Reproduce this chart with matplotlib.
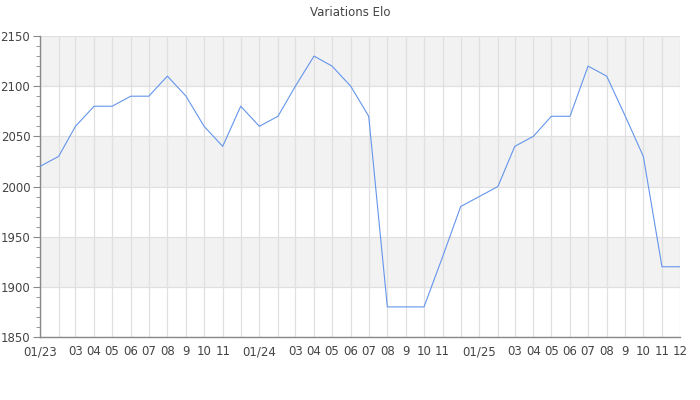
import pandas as pd
import matplotlib
matplotlib.use("Agg")
import matplotlib.pyplot as plt
from matplotlib.ticker import MultipleLocator

# monthly Elo values, 01/2023 -> 12/2025
months = pd.date_range("2023-01-01", periods=36, freq="MS")
elo = [
    2020, 2030, 2060, 2080, 2080, 2090, 2090, 2110, 2090, 2060, 2040, 2080,
    2060, 2070, 2100, 2130, 2120, 2100, 2070, 1880, 1880, 1880, 1930, 1980,
    1990, 2000, 2040, 2050, 2070, 2070, 2120, 2110, 2070, 2030, 1920, 1920,
]
month_labels = (
    ["01/23", "", "03", "04", "05", "06", "07", "08", "9", "10", "11", ""]
    + ["01/24", "", "03", "04", "05", "06", "07", "08", "9", "10", "11", ""]
    + ["01/25", "", "03", "04", "05", "06", "07", "08", "9", "10", "11", "12"]
)
y_min, y_max, y_step = 1850, 2150, 50

text_col = "#444444"
grid_col = "#e0e0e0"
band_col = "#f2f2f2"
line_col = "#6495ed"

fig = plt.figure(figsize=(7, 4), dpi=100)
ax = fig.add_axes([40 / 700, 1 - 337 / 400, 640 / 700, 301 / 400])

# alternating horizontal bands
for i, lo in enumerate(range(y_max - y_step, y_min - 1, -y_step)):
    if i % 2 == 0:
        ax.axhspan(lo, lo + y_step, color=band_col, zorder=0, lw=0)

ax.plot(months, elo, color=line_col, linewidth=0.8, zorder=3)

ax.set_xlim(months[0], months[-1])
ax.set_ylim(y_min, y_max)
ax.set_xticks(months)
ax.set_xticklabels(month_labels)
ax.yaxis.set_major_locator(MultipleLocator(y_step))
ax.yaxis.set_minor_locator(MultipleLocator(10))

ax.grid(True, which="major", color=grid_col, linewidth=0.9, zorder=1)
ax.set_axisbelow(True)

for side in ("top", "right"):
    ax.spines[side].set_visible(False)
for side in ("left", "bottom"):
    ax.spines[side].set_color("#888888")
    ax.spines[side].set_linewidth(1)

ax.tick_params(axis="x", length=0, pad=6, labelsize=8.5, labelcolor=text_col)
ax.tick_params(axis="y", which="major", length=5, color="#888888",
               labelsize=8.5, labelcolor=text_col, pad=2)
ax.tick_params(axis="y", which="minor", length=3, color="#888888")

fig.text(0.5, 1 - 12 / 400, "Variations Elo", ha="center", va="center",
         fontsize=8.5, color=text_col)

fig.savefig("out.png", dpi=100)
